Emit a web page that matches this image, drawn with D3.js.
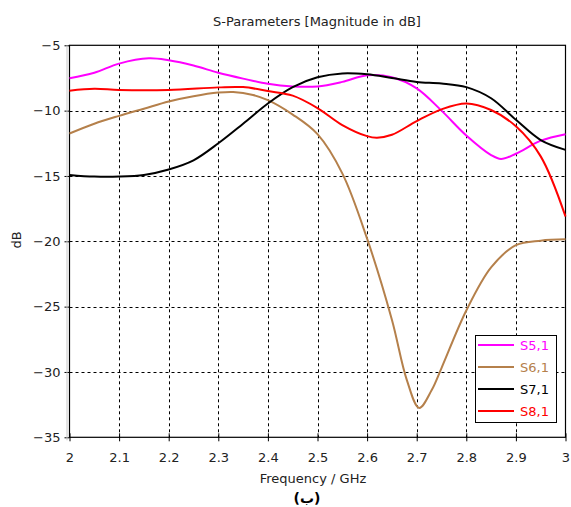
<!DOCTYPE html>
<html><head><meta charset="utf-8">
<script src="https://cdn.jsdelivr.net/npm/d3@7"></script>
<style>body{margin:0;background:#fff}svg{display:block}text{font-family:"DejaVu Sans",sans-serif}</style>
</head><body>
<script>
const freqTicks = [2,2.1,2.2,2.3,2.4,2.5,2.6,2.7,2.8,2.9,3];
const dbTicks = [-5,-10,-15,-20,-25,-30,-35];
const seriesNames = ["S5,1","S6,1","S7,1","S8,1"];
const seriesColors = ["#ff00ff","#b5804b","#000000","#ff0000"];
const s51 = [[2.00,-7.52],[2.05,-7.1],[2.10,-6.4],[2.16,-6.0],[2.20,-6.15],[2.25,-6.55],[2.30,-7.1],[2.35,-7.55],[2.40,-7.95],[2.45,-8.15],[2.50,-8.15],[2.55,-7.8],[2.60,-7.3],[2.65,-7.45],[2.70,-8.3],[2.75,-10.0],[2.80,-11.9],[2.85,-13.4],[2.87,-13.7],[2.90,-13.3],[2.95,-12.3],[3.00,-11.8]];
const s61 = [[2.00,-11.75],[2.05,-11.0],[2.10,-10.4],[2.15,-9.85],[2.20,-9.3],[2.25,-8.9],[2.30,-8.62],[2.33,-8.57],[2.37,-8.8],[2.40,-9.2],[2.45,-10.3],[2.50,-11.8],[2.55,-14.8],[2.60,-19.8],[2.65,-26.0],[2.68,-30.6],[2.705,-32.75],[2.73,-31.4],[2.75,-29.7],[2.80,-25.3],[2.85,-22.0],[2.90,-20.3],[2.95,-19.95],[3.00,-19.85]];
const s71 = [[2.00,-14.92],[2.05,-15.05],[2.10,-15.05],[2.15,-14.92],[2.20,-14.5],[2.25,-13.8],[2.30,-12.5],[2.35,-11.0],[2.40,-9.45],[2.45,-8.2],[2.50,-7.45],[2.55,-7.15],[2.60,-7.22],[2.65,-7.5],[2.70,-7.8],[2.75,-7.92],[2.80,-8.2],[2.85,-9.05],[2.90,-10.7],[2.95,-12.25],[3.00,-13.0]];
const s81 = [[2.00,-8.47],[2.05,-8.33],[2.10,-8.42],[2.20,-8.42],[2.30,-8.22],[2.35,-8.2],[2.40,-8.5],[2.45,-8.85],[2.50,-9.8],[2.55,-11.1],[2.60,-11.95],[2.62,-12.07],[2.65,-11.85],[2.70,-10.8],[2.75,-9.9],[2.80,-9.45],[2.85,-9.95],[2.90,-11.2],[2.95,-13.5],[3.00,-18.1]];
const seriesData = [s51,s61,s71,s81];

const W=571,H=507;
const L=69.5,R=565.5,T=45.3,B=437.3;
const svg=d3.select("body").append("svg").attr("width",W).attr("height",H);
const x=d3.scaleLinear().domain([2,3]).range([L,R]);
const y=d3.scaleLinear().domain([-35,-5]).range([B,T]);

// grid
const g=svg.append("g");
g.selectAll(".vg").data(freqTicks.slice(1,-1)).enter().append("line")
 .attr("x1",d=>Math.round(x(d))+0.5).attr("x2",d=>Math.round(x(d))+0.5).attr("y1",T).attr("y2",B)
 .attr("stroke","#000").attr("stroke-width",1).attr("stroke-dasharray","3,3");
g.selectAll(".hg").data(dbTicks.slice(1,-1)).enter().append("line")
 .attr("y1",d=>Math.round(y(d))+0.5).attr("y2",d=>Math.round(y(d))+0.5).attr("x1",L).attr("x2",R)
 .attr("stroke","#000").attr("stroke-width",1).attr("stroke-dasharray","3,3");

// axes
const yAxis=d3.axisLeft(y).tickValues(dbTicks).tickSize(5).tickPadding(4).tickFormat(d3.format("d"));
const ya=svg.append("g").attr("transform",`translate(${L},0)`).call(yAxis);
ya.select(".domain").remove();
ya.selectAll("text").attr("font-size",13).attr("fill","#222").style("font-family","DejaVu Sans");
const xAxis=d3.axisBottom(x).tickValues(freqTicks).tickSize(4).tickPadding(11).tickFormat(d=>String(d));
const xa=svg.append("g").attr("transform",`translate(0,${B})`).call(xAxis);
xa.select(".domain").remove();
xa.selectAll(".tick line").attr("y1",-4);
xa.selectAll("text").attr("font-size",13).attr("fill","#222").style("font-family","DejaVu Sans");

// frame
svg.append("line").attr("x1",L-2.5).attr("x2",L-2.5).attr("y1",T).attr("y2",B+3).attr("stroke","#c8c8c8").attr("stroke-width",1);
svg.append("rect").attr("x",L).attr("y",T).attr("width",R-L).attr("height",B-T).attr("fill","none").attr("stroke","#000").attr("stroke-width",1.2);

// curves
const line=d3.line().x(d=>x(d[0])).y(d=>y(d[1])).curve(d3.curveCatmullRom.alpha(0.5));
seriesData.forEach((s,i)=>{
  svg.append("path").attr("d",line(s)).attr("fill","none").attr("stroke",seriesColors[i]).attr("stroke-width",2);
});

// legend
const lg=svg.append("g");
lg.append("rect").attr("x",475.5).attr("y",335.5).attr("width",81).attr("height",87).attr("fill","#fff").attr("stroke","#000").attr("stroke-width",1);
seriesNames.forEach((n,i)=>{
  const yy=345+i*22;
  lg.append("line").attr("x1",478).attr("x2",514).attr("y1",yy).attr("y2",yy).attr("stroke",seriesColors[i]).attr("stroke-width",2);
  lg.append("text").attr("x",520).attr("y",yy+5).attr("font-size",13).attr("fill",seriesColors[i]).text(n);
});

// titles
svg.append("text").attr("x",317).attr("y",26).attr("text-anchor","middle").attr("font-size",13).attr("fill","#222").text("S-Parameters [Magnitude in dB]");
svg.append("text").attr("x",313).attr("y",483).attr("text-anchor","middle").attr("font-size",13).attr("fill","#222").text("Frequency / GHz");
svg.append("text").attr("transform","translate(21,240) rotate(-90)").attr("text-anchor","middle").attr("font-size",13).attr("fill","#222").text("dB");
svg.append("text").attr("x",307).attr("y",503).attr("text-anchor","middle").attr("font-size",14).attr("font-weight","bold").attr("fill","#000").text("(ب)");
</script>
</body></html>
